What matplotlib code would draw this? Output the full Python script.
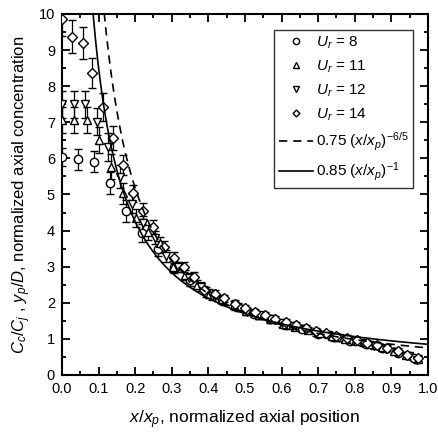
import numpy as np
import matplotlib
matplotlib.use("Agg")
import matplotlib.pyplot as plt
from matplotlib.lines import Line2D

plt.rcParams["font.family"] = ["Liberation Sans", "DejaVu Sans"]
plt.rcParams["mathtext.fontset"] = "custom"
plt.rcParams["mathtext.rm"] = "Liberation Sans"
plt.rcParams["mathtext.it"] = "Liberation Sans:italic"

# U_r = 8 (circles)
x8 = [0.000, 0.044, 0.088, 0.131, 0.175, 0.219, 0.263, 0.306, 0.350, 0.394, 0.438, 0.481,
      0.525, 0.569, 0.613, 0.656, 0.700, 0.744, 0.788, 0.831, 0.875, 0.919, 0.963]
y8 = [6.05, 5.97, 5.91, 5.31, 4.54, 3.92, 3.50, 3.00, 2.62, 2.30, 2.08, 1.88,
      1.70, 1.55, 1.38, 1.27, 1.13, 1.04, 0.94, 0.85, 0.74, 0.62, 0.46]
e8 = [0.25, 0.28, 0.30, 0.30, 0.30, 0.25, 0.20, 0.17, 0.15, 0.13, 0.12, 0.11,
      0.10, 0.10, 0.10, 0.09, 0.09, 0.09, 0.08, 0.08, 0.08, 0.08, 0.08]

# U_r = 11 (up triangles)
x11 = [0.000, 0.034, 0.067, 0.101, 0.134, 0.168, 0.202, 0.235, 0.269, 0.302, 0.336, 0.370,
       0.403, 0.437, 0.470, 0.504, 0.538, 0.571, 0.605, 0.638, 0.672, 0.706, 0.739, 0.773,
       0.806, 0.840, 0.874, 0.907, 0.941, 0.974]
y11 = [7.06, 7.06, 7.06, 6.51, 5.77, 5.03, 4.34, 3.95, 3.65, 3.00, 2.78, 2.50,
       2.25, 2.10, 1.95, 1.78, 1.65, 1.55, 1.42, 1.33, 1.24, 1.15, 1.08, 1.00,
       0.93, 0.86, 0.77, 0.67, 0.56, 0.45]
e11 = [0.35, 0.35, 0.35, 0.35, 0.35, 0.30, 0.25, 0.20, 0.18, 0.16, 0.14, 0.13,
       0.12, 0.11, 0.10, 0.10, 0.10, 0.09, 0.09, 0.09, 0.09, 0.08, 0.08, 0.08,
       0.08, 0.08, 0.08, 0.08, 0.08, 0.08]

# U_r = 12 (down triangles)
x12 = [0.000, 0.032, 0.063, 0.095, 0.126, 0.158, 0.190, 0.221, 0.253, 0.284, 0.316, 0.348,
       0.379, 0.411, 0.442, 0.474, 0.506, 0.537, 0.569, 0.600, 0.632, 0.664, 0.695, 0.727,
       0.758, 0.790, 0.822, 0.853, 0.885, 0.916, 0.948, 0.970]
y12 = [7.50, 7.50, 7.50, 7.02, 6.32, 5.49, 4.75, 4.20, 3.80, 3.30, 3.00, 2.70,
       2.45, 2.20, 2.05, 1.90, 1.75, 1.65, 1.55, 1.43, 1.35, 1.26, 1.17, 1.10,
       1.02, 0.95, 0.88, 0.80, 0.72, 0.63, 0.52, 0.42]
e12 = [0.38, 0.38, 0.38, 0.38, 0.38, 0.32, 0.25, 0.20, 0.18, 0.16, 0.14, 0.13,
       0.12, 0.11, 0.10, 0.10, 0.10, 0.09, 0.09, 0.09, 0.09, 0.08, 0.08, 0.08,
       0.08, 0.08, 0.08, 0.08, 0.08, 0.08, 0.08, 0.08]

# U_r = 14 (diamonds)
x14 = [0.000, 0.028, 0.056, 0.083, 0.111, 0.139, 0.167, 0.194, 0.222, 0.250, 0.278, 0.306,
       0.333, 0.361, 0.389, 0.417, 0.444, 0.472, 0.500, 0.528, 0.556, 0.583, 0.611, 0.639,
       0.667, 0.694, 0.722, 0.750, 0.778, 0.806, 0.833, 0.861, 0.889, 0.917, 0.944, 0.972]
y14 = [9.85, 9.37, 9.19, 8.37, 7.42, 6.56, 5.82, 5.03, 4.55, 4.10, 3.55, 3.25,
       3.00, 2.72, 2.35, 2.25, 2.12, 1.98, 1.85, 1.75, 1.65, 1.55, 1.46, 1.38,
       1.30, 1.22, 1.15, 1.09, 1.02, 0.96, 0.89, 0.82, 0.74, 0.66, 0.56, 0.46]
e14 = [0.45, 0.45, 0.45, 0.42, 0.38, 0.33, 0.28, 0.24, 0.22, 0.19, 0.17, 0.15,
       0.14, 0.13, 0.12, 0.11, 0.10, 0.10, 0.10, 0.09, 0.09, 0.09, 0.09, 0.09,
       0.08, 0.08, 0.08, 0.08, 0.08, 0.08, 0.08, 0.08, 0.08, 0.08, 0.08, 0.08]

series = [
    (x8, y8, e8, "o", "$U_r$ = 8"),
    (x11, y11, e11, "^", "$U_r$ = 11"),
    (x12, y12, e12, "v", "$U_r$ = 12"),
    (x14, y14, e14, "D", "$U_r$ = 14"),
]

fig = plt.figure(figsize=(4.38, 4.33), dpi=100)
ax = fig.add_axes([0.1416, 0.134, 0.8354, 0.8337])

handles = []
for xs, ys, es, m, lab in series:
    ms = 6 if m != "D" else 5
    ax.errorbar(xs, ys, yerr=es, fmt=m, mfc="white", mec="black", ecolor="black",
                ms=ms, mew=1.0, elinewidth=0.9, capsize=3, capthick=0.9, zorder=3)
    handles.append(Line2D([], [], ls="none", marker=m, mfc="white", mec="black",
                          ms=ms - 1.5, mew=1.0, label=lab))

xd = np.linspace(0.1, 1.0, 300)
xs_ = np.linspace(0.08, 1.0, 300)
dashed, = ax.plot(xd, 0.75 * xd ** (-6 / 5), color="black", ls=(0, (5, 3.5)), lw=1.2,
                  label="0.75 ($x/x_p$)$^{-6/5}$", zorder=4)
solid, = ax.plot(xs_, 0.85 / xs_, color="black", ls="-", lw=1.2,
                 label="0.85 ($x/x_p$)$^{-1}$", zorder=4)
handles += [dashed, solid]

ax.set_xlim(0, 1.0)
ax.set_ylim(0, 10)
ax.set_xticks(np.arange(0, 1.01, 0.1))
ax.set_xticks(np.arange(0.05, 1.0, 0.1), minor=True)
ax.set_yticks(np.arange(0, 11, 1))
ax.set_yticks(np.arange(0.5, 10, 1), minor=True)
ax.xaxis.set_major_formatter(matplotlib.ticker.FormatStrFormatter("%.1f"))
ax.tick_params(which="both", direction="in", top=True, right=True, width=1.3,
               labelsize=10.5, pad=5)
ax.tick_params(which="major", length=6)
ax.tick_params(which="minor", length=3)
for s in ax.spines.values():
    s.set_linewidth(1.5)

ax.set_xlabel("$x/x_p$, normalized axial position", fontsize=12.5, labelpad=9)
ax.set_ylabel("$C_c/C_j$ , $y_p/D$, normalized axial concentration", fontsize=12,
              labelpad=4)

leg = ax.legend(handles=handles, loc="upper right", bbox_to_anchor=(0.959, 0.956),
                fontsize=11, frameon=True, fancybox=False, edgecolor="black",
                handlelength=2.25, handletextpad=0.15, borderpad=0.3,
                labelspacing=0.5, borderaxespad=0)
leg.get_frame().set_linewidth(1.0)

fig.savefig("out.png", dpi=100)
